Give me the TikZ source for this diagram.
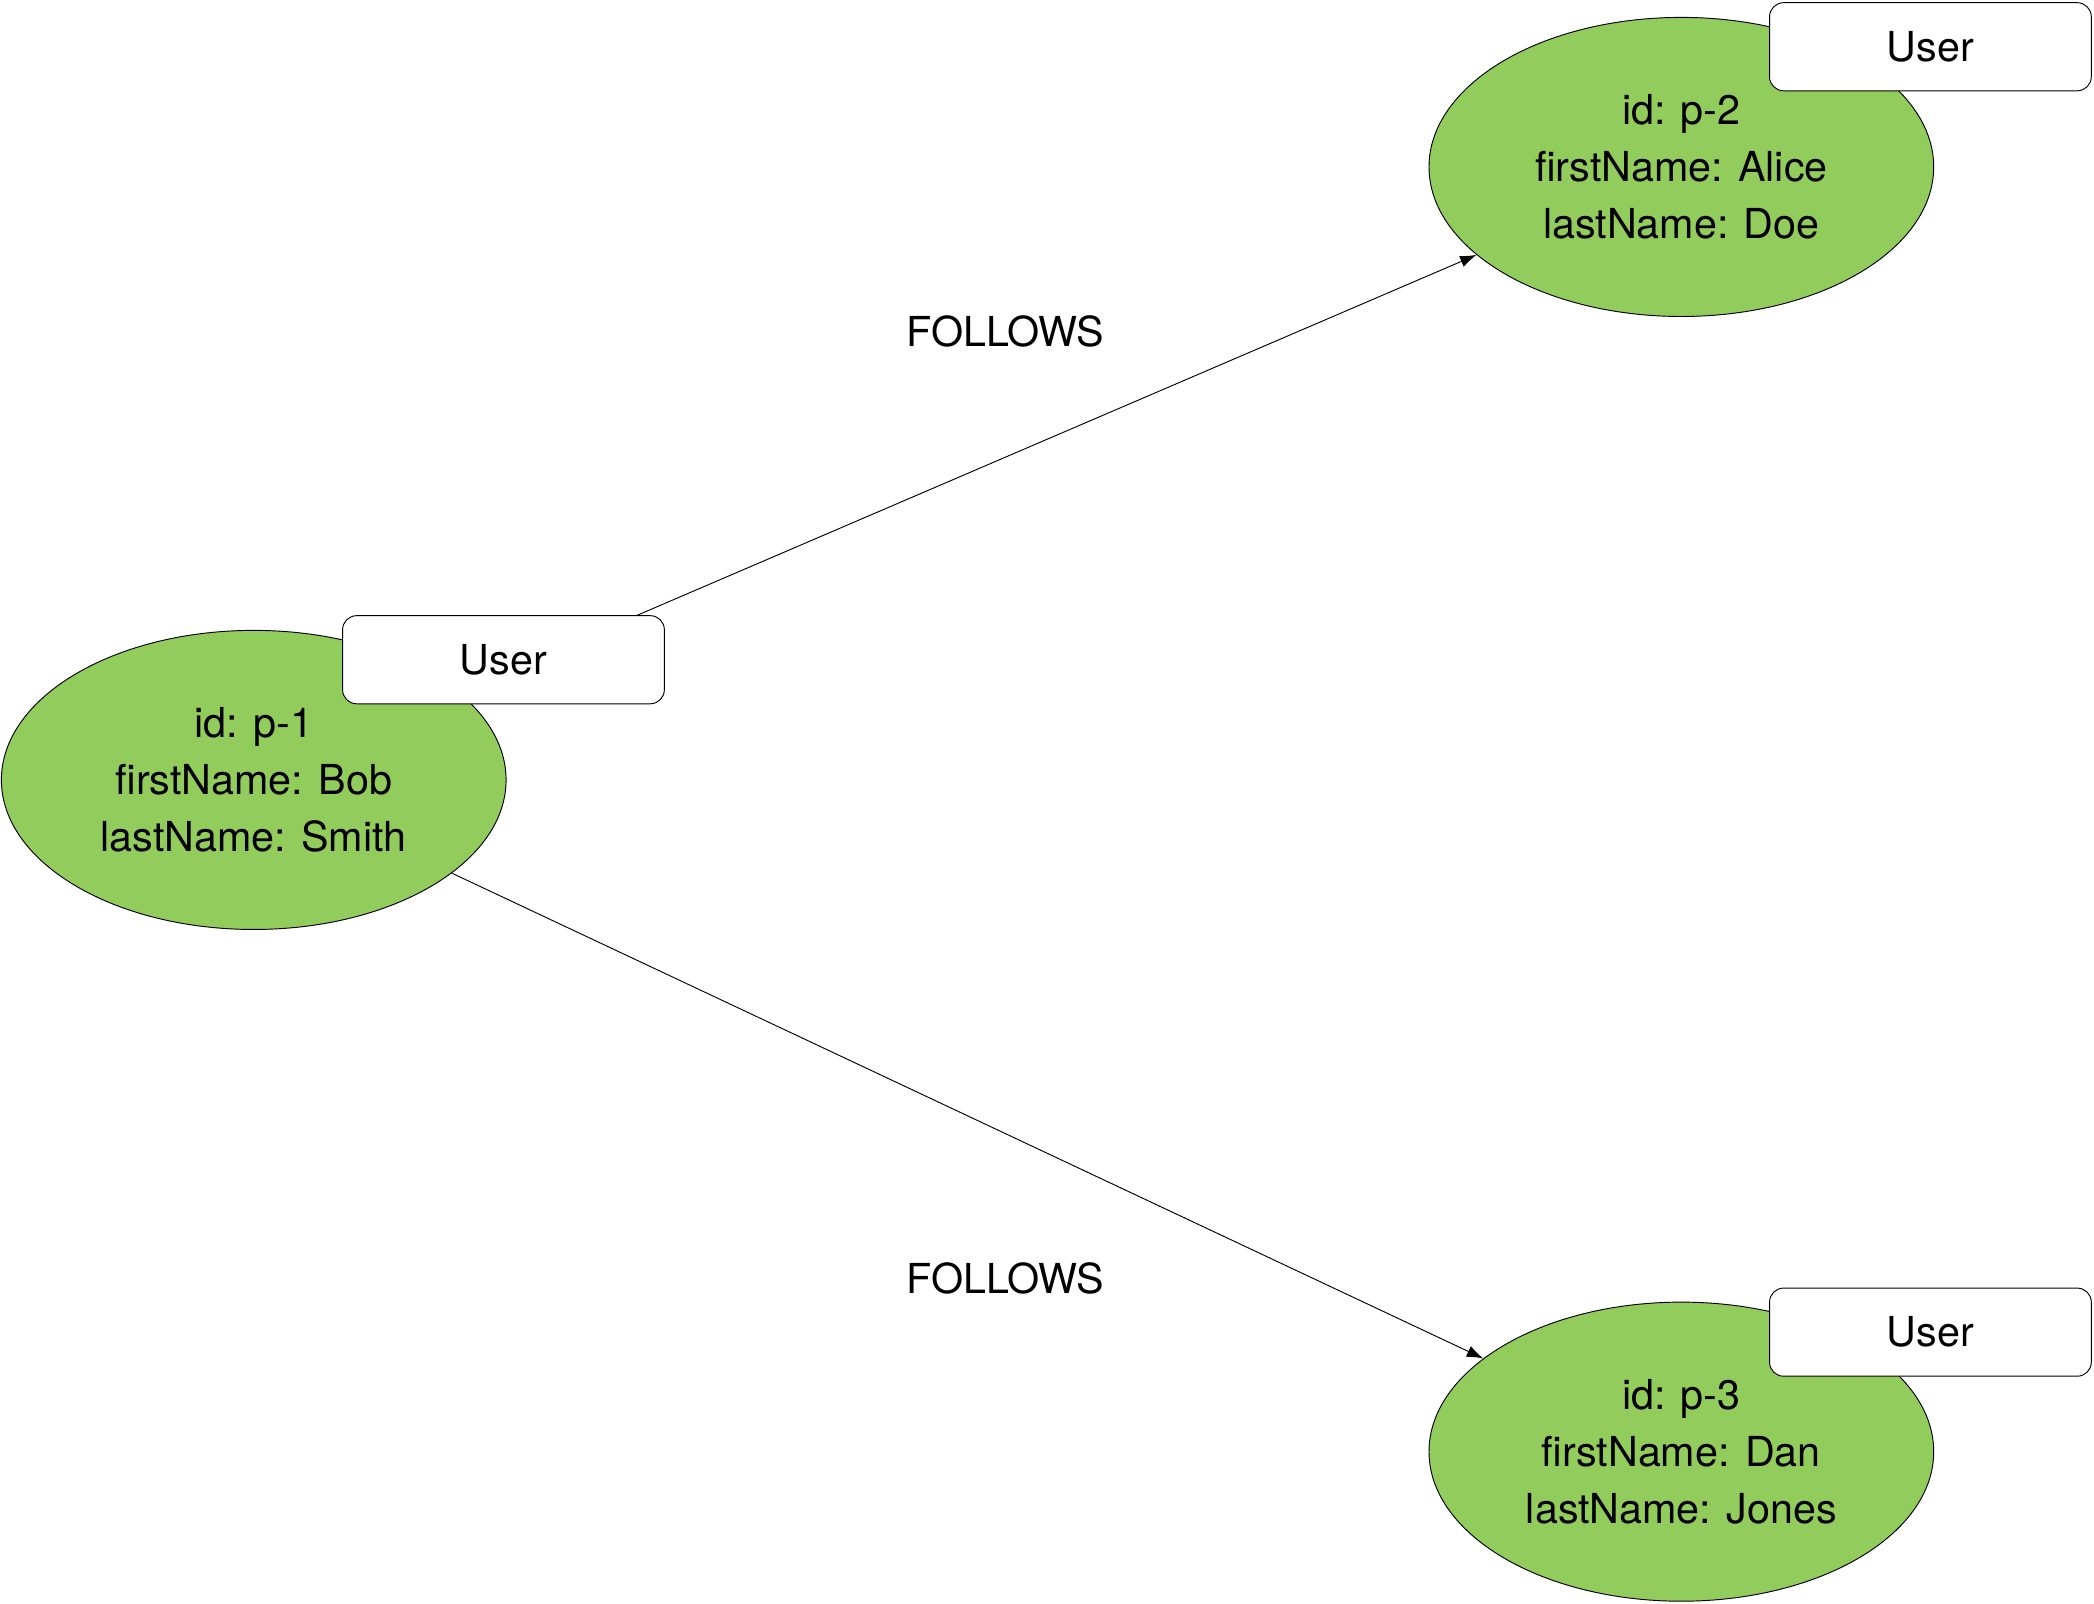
\documentclass[tikz,border=0pt]{standalone}
\usepackage{fontspec}
\setmainfont{TeX Gyre Heros}
\usetikzlibrary{shapes.geometric,arrows.meta}
\definecolor{nodegreen}{HTML}{92CC5C}
\tikzset{
  user/.style={ellipse, draw=black, fill=nodegreen, minimum width=7.56cm, minimum height=4.48cm, inner sep=0pt, align=center, font=\fontsize{17.6}{24.4}\selectfont},
  label box/.style={draw=black, fill=white, rounded corners=6pt, minimum width=4.82cm, minimum height=1.32cm, inner sep=0pt, font=\fontsize{17.6}{24.4}\selectfont},
  rel/.style={-{Latex[length=7pt,width=5pt]}, thin},
  rel text/.style={font=\fontsize{17.6}{24.4}\selectfont}
}
\begin{document}
\begin{tikzpicture}[x=0.02cm,y=-0.02cm]
\useasboundingbox (0,0) rectangle (1568,1201);
\node[user] (p1) at (190,584) {id: p-1\\firstName: Bob\\lastName: Smith};
\node[user] (p2) at (1259,125) {id: p-2\\firstName: Alice\\lastName: Doe};
\node[user] (p3) at (1259,1087) {id: p-3\\firstName: Dan\\lastName: Jones};
\draw[rel] (p1) -- (p2);
\draw[rel] (p1) -- (p3);
\node[label box] (u1) at (377,494) {User};
\node[label box] (u2) at (1445.5,35) {User};
\node[label box] (u3) at (1445.5,997.5) {User};
\node[rel text] (f1) at (753,248) {FOLLOWS};
\node[rel text] (f2) at (753,957) {FOLLOWS};
\end{tikzpicture}
\end{document}
